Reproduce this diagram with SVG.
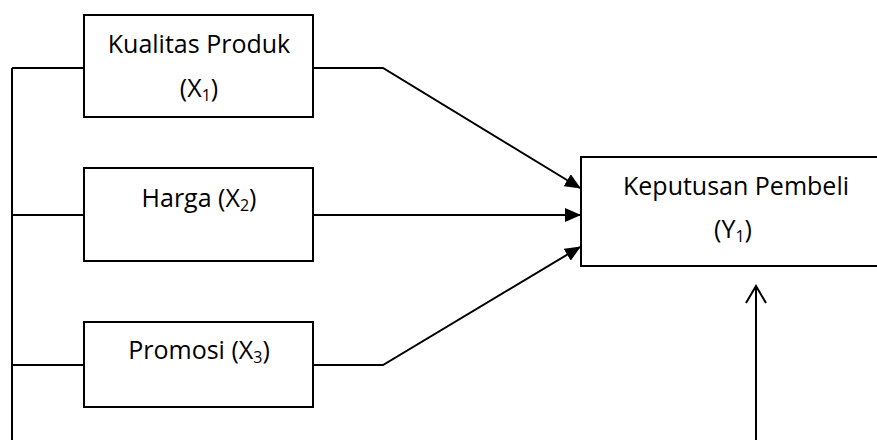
<svg xmlns="http://www.w3.org/2000/svg" width="877" height="440" viewBox="0 0 877 440">
  <style>
    .box { fill: #ffffff; stroke: #000000; stroke-width: 2; }
    .line { fill: none; stroke: #000000; stroke-width: 2; }
    .label { font-family: "Open Sans", "Noto Sans", "Liberation Sans", sans-serif; font-size: 25px; fill: #000000; text-anchor: middle; }
    .sub { font-size: 16px; }
  </style>
  <defs>
    <marker id="solid" markerWidth="16" markerHeight="14" refX="15" refY="7" orient="auto" markerUnits="userSpaceOnUse">
      <path d="M0,0 L16,7 L0,14 Z" fill="#000000"/>
    </marker>
  </defs>

  <!-- connectors -->
  <g id="connectors">
    <!-- left bus joining the three factors -->
    <path class="line" d="M12,68 V440"/>
    <path class="line" d="M12,68 H84"/>
    <path class="line" d="M12,215 H84"/>
    <path class="line" d="M12,365 H84"/>
    <!-- factor arrows into the decision box -->
    <path class="line" d="M313,68 H383 L580,188" marker-end="url(#solid)"/>
    <path class="line" d="M313,215 H580" marker-end="url(#solid)"/>
    <path class="line" d="M313,365 H383 L580,247" marker-end="url(#solid)"/>
    <!-- return arrow from below -->
    <path class="line" d="M756,440 V286"/>
    <path class="line" d="M746,303 L756,286 L766,303"/>
  </g>

  <g id="kualitas-produk">
    <rect class="box" x="84" y="15" width="229" height="102"/>
    <text class="label" x="199" y="53">Kualitas Produk</text>
    <text class="label" x="199" y="97">(X<tspan class="sub" dy="4">1</tspan><tspan dy="-4">)</tspan></text>
  </g>

  <g id="harga">
    <rect class="box" x="84" y="168" width="229" height="93"/>
    <text class="label" x="199" y="207">Harga (X<tspan class="sub" dy="4">2</tspan><tspan dy="-4">)</tspan></text>
  </g>

  <g id="promosi">
    <rect class="box" x="84" y="322" width="229" height="85"/>
    <text class="label" x="199" y="359">Promosi (X<tspan class="sub" dy="4">3</tspan><tspan dy="-4">)</tspan></text>
  </g>

  <g id="keputusan-pembeli">
    <rect class="box" x="581" y="157" width="300" height="109"/>
    <text class="label" x="736" y="195">Keputusan Pembeli</text>
    <text class="label" x="733" y="238">(Y<tspan class="sub" dy="4">1</tspan><tspan dy="-4">)</tspan></text>
  </g>
</svg>
